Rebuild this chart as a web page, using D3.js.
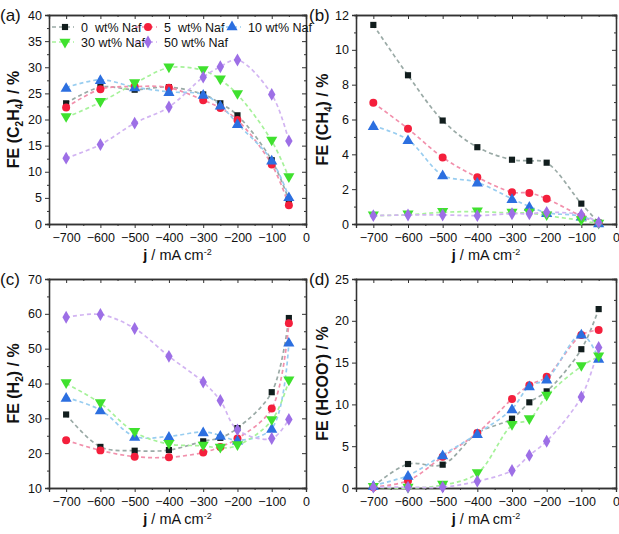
<!DOCTYPE html>
<html><head><meta charset="utf-8">
<script src="https://cdn.jsdelivr.net/npm/d3@7"></script>
<style>body{margin:0;background:#fff}svg{display:block}text{font-family:"Liberation Sans",Arial,sans-serif}</style>
</head><body>
<svg id="c" width="619" height="534"></svg>
<script>
const xValues = [-700, -600, -500, -400, -300, -250, -200, -100, -50];
const seriesNames = ["0  wt% Naf", "5  wt% Naf", "10 wt% Naf", "30 wt% Naf", "50 wt% Naf"];
const xTicks = [-700, -600, -500, -400, -300, -200, -100, 0];

const feC2H4 = [
  [23.1, 26.2, 25.7, 26.2, 24.8, 23.1, 20.8, 12.2, 4.6],
  [22.3, 25.8, 26.3, 26.1, 23.7, 22.2, 19.9, 11.4, 3.6],
  [26.1, 27.6, 26.2, 25.3, 24.8, 22.7, 19.2, 12.2, 5.2],
  [20.4, 23.3, 26.9, 29.9, 29.4, 27.6, 24.8, 15.9, 8.9],
  [12.6, 15.2, 19.3, 22.4, 28.1, 30.1, 31.4, 24.8, 15.9]
];
const feCH4 = [
  [11.43, 8.54, 5.94, 4.41, 3.69, 3.63, 3.52, 1.17, 0.08],
  [6.96, 5.47, 3.82, 2.68, 1.83, 1.78, 1.45, 0.45, 0.05],
  [5.64, 4.83, 2.81, 2.39, 1.45, 1.01, 0.65, 0.45, 0.05],
  [0.48, 0.53, 0.67, 0.71, 0.63, 0.63, 0.48, 0.2, 0.0],
  [0.48, 0.52, 0.52, 0.48, 0.59, 0.59, 0.67, 0.53, 0.08]
];
const feH2 = [
  [31.1, 21.8, 20.7, 20.9, 23.4, 24.4, 27.2, 37.5, 58.8],
  [23.7, 20.8, 19.0, 18.8, 20.2, 21.8, 24.2, 32.8, 57.3],
  [36.0, 32.4, 24.8, 24.8, 26.1, 25.1, 23.7, 27.1, 51.8],
  [40.0, 34.3, 26.0, 22.6, 22.1, 21.5, 22.2, 29.4, 40.8],
  [59.0, 59.8, 55.8, 47.8, 40.4, 35.1, 26.7, 24.2, 29.7]
];
const feHCOO = [
  [0.2, 2.87, 2.79, 6.58, 8.29, 10.25, 11.56, 16.6, 21.4],
  [0.1, 0.88, 3.75, 6.58, 10.65, 12.3, 13.3, 18.3, 18.9],
  [0.3, 1.5, 3.95, 6.5, 9.45, 12.2, 13.0, 18.4, 15.5],
  [0.1, 0.0, 0.35, 1.75, 7.5, 8.2, 11.0, 14.55, 15.7],
  [0.1, 0.1, 0.1, 0.8, 2.1, 3.9, 5.6, 10.9, 16.8]
];

const markerColors = ["#111d1d", "#f41f3c", "#2c6fe0", "#3fe12e", "#9d6fe6"];
const lineColors = ["#9aaaa6", "#f290ac", "#98cdf0", "#a6f29a", "#d2b4f2"];
const symbols = [d3.symbolSquare, d3.symbolCircle, d3.symbolTriangle, d3.symbolTriangle, d3.symbolDiamond];
const symSizes = [38, 50, 54, 54, 48];
const symRot = [0, 0, 0, 180, 0];

const svg = d3.select("#c");
const axisColor = "#333";

const panels = [
  {label:"(a)", data:feC2H4, dom:[0,40], step:5, box:[49,306,15,224], lx:0, ly:21, title:["FE (C", "2", "H", "4", ") / %"], legend:true},
  {label:"(b)", data:feCH4, dom:[0,12], step:2, box:[356,616,15,224], lx:309, ly:21, title:["FE (CH", "4", ") / %"]},
  {label:"(c)", data:feH2, dom:[10,70], step:10, box:[49,306,279,488], lx:0, ly:285, title:["FE (H", "2", ") / %"]},
  {label:"(d)", data:feHCOO, dom:[0,25], step:5, box:[356,616,279,488], lx:309, ly:285, title:["FE (HCOO", "-", ") / %"], sup:true}
];

panels.forEach(p => {
  const [L,R,T,B] = p.box;
  const x = d3.scaleLinear().domain([-750,0]).range([L,R]);
  const y = d3.scaleLinear().domain(p.dom).range([B,T]);
  const g = svg.append("g");
  const yMajor = d3.range(p.dom[0], p.dom[1] + 1e-9, p.step);
  const yMinor = d3.range(p.dom[0] + p.step/2, p.dom[1], p.step);
  const xMinor = d3.range(-750, 0, 100);

  const bottom = g.append("g").attr("transform",`translate(0,${B})`)
    .call(d3.axisBottom(x).tickValues(xTicks).tickSize(4).tickPadding(3).tickFormat(d3.format("d")));
  g.append("g").attr("transform",`translate(0,${B})`)
    .call(d3.axisBottom(x).tickValues(xMinor).tickSize(2).tickFormat(""));
  g.append("g").attr("transform",`translate(${L},0)`)
    .call(d3.axisLeft(y).tickValues(yMajor).tickSize(4).tickPadding(3).tickFormat(d3.format("d")));
  g.append("g").attr("transform",`translate(${L},0)`)
    .call(d3.axisLeft(y).tickValues(yMinor).tickSize(2).tickFormat(""));
  g.append("g").attr("transform",`translate(0,${T})`)
    .call(d3.axisBottom(x).tickValues(xTicks).tickSize(4).tickFormat(""));
  g.append("g").attr("transform",`translate(0,${T})`)
    .call(d3.axisBottom(x).tickValues(xMinor).tickSize(2).tickFormat(""));
  g.append("g").attr("transform",`translate(${R},0)`)
    .call(d3.axisLeft(y).tickValues(yMajor).tickSize(4).tickFormat(""));
  g.append("g").attr("transform",`translate(${R},0)`)
    .call(d3.axisLeft(y).tickValues(yMinor).tickSize(2).tickFormat(""));
  g.selectAll(".domain").attr("stroke", axisColor).attr("stroke-width",1.3);
  g.selectAll(".tick line").attr("stroke", axisColor).attr("stroke-width",1);
  g.selectAll(".tick text").attr("fill","#111").style("font-size","12.5px").style("font-family","'Liberation Sans',Arial,sans-serif");
  bottom.selectAll(".tick text").attr("dy","0.9em");

  const line = d3.line().x((d,i)=>x(xValues[i])).y(d=>y(d)).curve(d3.curveCatmullRom.alpha(0.5));
  p.data.forEach((s,k) => {
    g.append("path").datum(s).attr("d", line).attr("fill","none")
      .attr("stroke", lineColors[k]).attr("stroke-width",1.7).attr("stroke-dasharray","4,3");
  });
  p.data.forEach((s,k) => {
    const sym = d3.symbol().type(symbols[k]).size(symSizes[k]);
    g.selectAll(null).data(s).join("path")
      .attr("d", sym)
      .attr("transform",(d,i)=>`translate(${x(xValues[i])},${y(d) + (k===3?-1:k===2?1:0)}) rotate(${symRot[k]})`)
      .attr("fill", markerColors[k]);
  });

  g.append("text").attr("x",p.lx).attr("y",p.ly).text(p.label)
    .style("font-size","17px").attr("fill","#111");

  const xt = g.append("text").attr("x",(L+R)/2).attr("y",B+36).attr("text-anchor","middle")
    .style("font-size","14.5px").attr("fill","#111");
  xt.append("tspan").text("j").attr("font-weight","bold");
  xt.append("tspan").text(" / mA cm");
  xt.append("tspan").text("-2").attr("dy","-5").style("font-size","9px");

  const yt = g.append("text").attr("transform",`translate(${p.lx+19},${(T+B)/2}) rotate(-90)`)
    .attr("text-anchor","middle").attr("font-weight","bold").style("font-size","16px").attr("fill","#111");
  p.title.forEach((t,i) => {
    if (i % 2 === 0) {
      const ts = yt.append("tspan").text(t);
      if (i > 0) ts.attr("dy", p.sup ? "6" : "-4");
    } else {
      yt.append("tspan").text(t).style("font-size","10px").attr("dy", p.sup ? "-6" : "4");
    }
  });

  if (p.legend) {
    const pos = [[65,27],[148,27],[232,27],[65,42],[148,42]];
    pos.forEach(([cx,cy],k) => {
      g.append("line").attr("x1",cx-13).attr("x2",cx+9).attr("y1",cy).attr("y2",cy)
        .attr("stroke",lineColors[k]).attr("stroke-width",1.7).attr("stroke-dasharray","4,3");
      g.append("path").attr("d", d3.symbol().type(symbols[k]).size(symSizes[k])())
        .attr("transform",`translate(${cx},${cy}) rotate(${symRot[k]})`).attr("fill",markerColors[k]);
      g.append("text").attr("x", cx + 16).attr("y", cy+4.5)
        .attr("xml:space","preserve").style("white-space","pre")
        .style("font-size","12.5px").attr("fill","#111").text(seriesNames[k]);
    });
  }
});
</script>
</body></html>
